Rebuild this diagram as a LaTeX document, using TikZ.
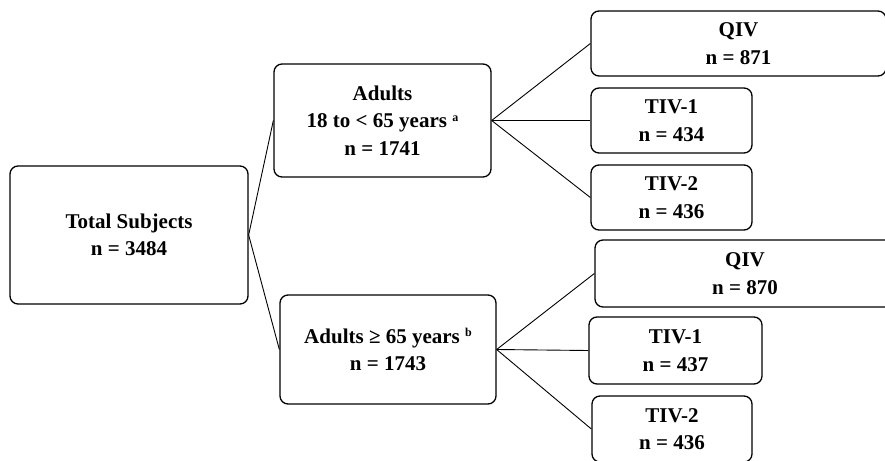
\documentclass[tikz,border=0pt]{standalone}
\usepackage{fontspec}
\setmainfont{Liberation Serif}
\usetikzlibrary{positioning}

\begin{document}
\begin{tikzpicture}[
    x=1pt, y=-1pt,
    box/.style={draw, rounded corners=8pt, line width=1.3pt, align=center,
        inner sep=0pt, font=\fontsize{21}{27.5}\selectfont\bfseries},
    link/.style={line width=0.9pt}
]
    \useasboundingbox (0,0) rectangle (885,460);

    % first column
    \node[box, minimum width=238pt, minimum height=138pt] (total) at (129,235)
        {Total Subjects\\n = 3484};

    % age groups
    \node[box, minimum width=217pt, minimum height=113pt] (adults) at (382.5,120.5)
        {Adults\\18 to < 65 years {\fontsize{12}{12}\selectfont\raisebox{1.2ex}{a}}\\n = 1741};
    \node[box, minimum width=216pt, minimum height=109pt] (older) at (388,349.5)
        {Adults ≥ 65 years {\fontsize{12}{12}\selectfont\raisebox{1.2ex}{b}}\\n = 1743};

    % vaccine groups, 18 to < 65
    \node[box, minimum width=295pt, minimum height=65pt] (qivA) at (738.5,43.5)
        {QIV\\n = 871};
    \node[box, minimum width=161pt, minimum height=65pt] (tivOneA) at (671.5,120.5)
        {TIV-1\\n = 434};
    \node[box, minimum width=161pt, minimum height=65pt] (tivTwoA) at (671.5,197.5)
        {TIV-2\\n = 436};

    % vaccine groups, >= 65
    \node[box, minimum width=300pt, minimum height=67pt] (qivB) at (745,273.5)
        {QIV\\n = 870};
    \node[box, minimum width=173pt, minimum height=67pt] (tivOneB) at (675.5,350.5)
        {TIV-1\\n = 437};
    \node[box, minimum width=160pt, minimum height=66pt] (tivTwoB) at (672,429)
        {TIV-2\\n = 436};

    \draw[link] (total.east) -- (adults.west);
    \draw[link] (total.east) -- (older.west);
    \draw[link] (adults.east) -- (qivA.west);
    \draw[link] (adults.east) -- (tivOneA.west);
    \draw[link] (adults.east) -- (tivTwoA.west);
    \draw[link] (older.east) -- (qivB.west);
    \draw[link] (older.east) -- (tivOneB.west);
    \draw[link] (older.east) -- (tivTwoB.west);
\end{tikzpicture}
\end{document}
